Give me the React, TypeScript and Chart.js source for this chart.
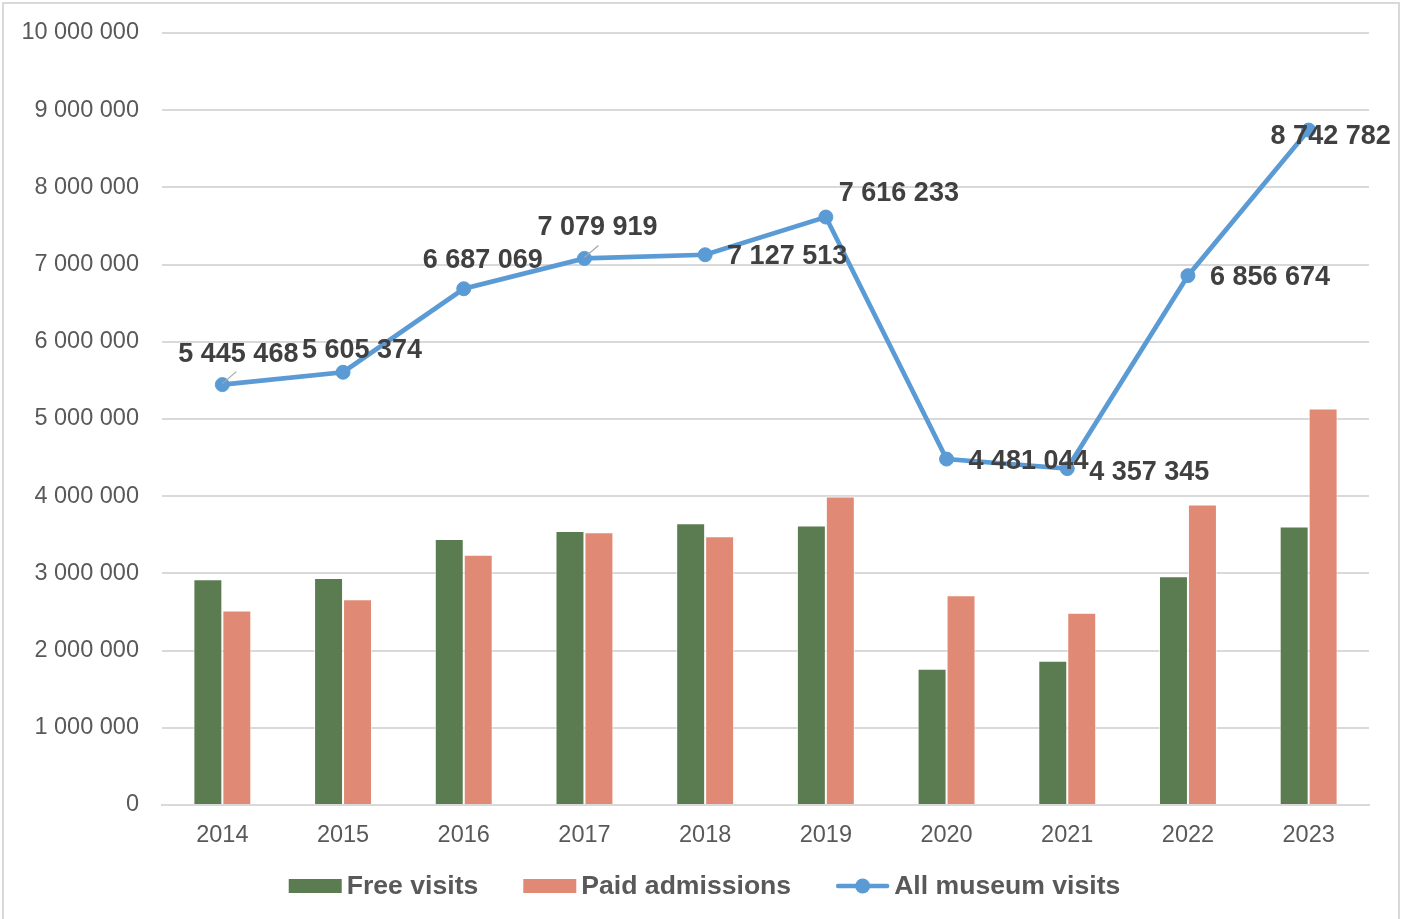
import React, { useEffect, useRef } from "react";
import { Chart, registerables } from "chart.js";

Chart.register(...registerables);

const years = ["2014", "2015", "2016", "2017", "2018", "2019", "2020", "2021", "2022", "2023"];
const freeVisits = [2925000, 2940000, 3445000, 3548000, 3648000, 3620000, 1765000, 1867000, 2963000, 3607000];
const paidAdmissions = [2520000, 2665000, 3242000, 3532000, 3480000, 3996000, 2716000, 2490000, 3894000, 5136000];
const allVisits = [5445468, 5605374, 6687069, 7079919, 7127513, 7616233, 4481044, 4357345, 6856674, 8742782];
const yTicks = [0, 1000000, 2000000, 3000000, 4000000, 5000000, 6000000, 7000000, 8000000, 9000000, 10000000];

const FONT = "'Liberation Sans', Arial, sans-serif";
const GREEN = "#5B7C50";
const SALMON = "#E08A75";
const BLUE = "#5B9BD5";

// label placement relative to each point (text centre), pixels
const labelOffsets = [
  { dx: 16, dy: -31, leader: true },
  { dx: 19, dy: -23 },
  { dx: 19, dy: -29 },
  { dx: 13, dy: -32, leader: true },
  { dx: 82, dy: 1 },
  { dx: 73, dy: -24 },
  { dx: 82, dy: 1 },
  { dx: 82, dy: 3 },
  { dx: 82, dy: 1 },
  { dx: 22, dy: 5 },
];

const fmt = (v: number) => Math.round(v).toString().replace(/\B(?=(\d{3})+(?!\d))/g, " ");

const framePlugin = {
  id: "frame",
  beforeDraw(chart: any) {
    const ctx = chart.ctx;
    ctx.save();
    ctx.fillStyle = "#ffffff";
    ctx.fillRect(0, 0, chart.width, chart.height);
    ctx.strokeStyle = "#d9d9d9";
    ctx.lineWidth = 2;
    ctx.strokeRect(3, 3, 1396, 940);
    ctx.restore();
  },
};

const labelsPlugin = {
  id: "lineLabels",
  afterDatasetsDraw(chart: any) {
    const ctx = chart.ctx;
    const meta = chart.getDatasetMeta(2);
    ctx.save();
    ctx.font = `bold 27px ${FONT}`;
    ctx.fillStyle = "#404040";
    ctx.textAlign = "center";
    ctx.textBaseline = "middle";
    meta.data.forEach((pt: any, i: number) => {
      const o = labelOffsets[i];
      const tx = pt.x + o.dx;
      const ty = pt.y + o.dy;
      if (o.leader) {
        ctx.save();
        ctx.strokeStyle = "#a6a6a6";
        ctx.lineWidth = 1.2;
        ctx.beginPath();
        ctx.moveTo(pt.x, pt.y - 1);
        ctx.lineTo(pt.x + 14, pt.y - 13);
        ctx.stroke();
        ctx.restore();
      }
      ctx.fillText(fmt(allVisits[i]), tx, ty + 1);
    });
    ctx.restore();
  },
};

const legendPlugin = {
  id: "customLegend",
  afterDraw(chart: any) {
    const ctx = chart.ctx;
    const items = [
      { text: "Free visits", type: "box", color: GREEN },
      { text: "Paid admissions", type: "box", color: SALMON },
      { text: "All museum visits", type: "line", color: BLUE },
    ];
    ctx.save();
    ctx.font = `bold 26.6px ${FONT}`;
    const symW = 53;
    const symGap = 5;
    const itemGap = 45;
    const widths = items.map((it) => ctx.measureText(it.text).width);
    const total = widths.reduce((a, w) => a + symW + symGap + w, 0) + itemGap * (items.length - 1);
    let x = (chart.width - total) / 2;
    const cy = 886;
    items.forEach((it, i) => {
      if (it.type === "box") {
        ctx.fillStyle = it.color;
        ctx.fillRect(x, cy - 7, symW, 14);
      } else {
        ctx.strokeStyle = it.color;
        ctx.lineWidth = 4.5;
        ctx.lineCap = "round";
        ctx.beginPath();
        ctx.moveTo(x + 2, cy);
        ctx.lineTo(x + symW - 2, cy);
        ctx.stroke();
        ctx.fillStyle = it.color;
        ctx.beginPath();
        ctx.arc(x + symW / 2, cy, 7.5, 0, Math.PI * 2);
        ctx.fill();
      }
      ctx.fillStyle = "#595959";
      ctx.textAlign = "left";
      ctx.textBaseline = "middle";
      ctx.fillText(it.text, x + symW + symGap, cy + 1);
      x += symW + symGap + widths[i] + itemGap;
    });
    ctx.restore();
  },
};

export default function App() {
  const ref = useRef<HTMLCanvasElement | null>(null);
  useEffect(() => {
    if (!ref.current) return;
    const chart = new Chart(ref.current, {
      type: "bar",
      data: {
        labels: years,
        datasets: [
          {
            type: "bar",
            label: "Free visits",
            data: freeVisits,
            backgroundColor: GREEN,
            borderColor: "rgba(255,255,255,0.7)",
            borderWidth: 1,
            categoryPercentage: 0.48,
            barPercentage: 1,
            order: 2,
          },
          {
            type: "bar",
            label: "Paid admissions",
            data: paidAdmissions,
            backgroundColor: SALMON,
            borderColor: "rgba(255,255,255,0.7)",
            borderWidth: 1,
            categoryPercentage: 0.48,
            barPercentage: 1,
            order: 2,
          },
          {
            type: "line",
            label: "All museum visits",
            data: allVisits,
            borderColor: BLUE,
            backgroundColor: BLUE,
            borderWidth: 4.7,
            pointRadius: 7,
            pointBorderWidth: 1,
            pointBackgroundColor: BLUE,
            pointBorderColor: BLUE,
            tension: 0,
            order: 0,
          } as any,
        ],
      },
      options: {
        animation: false,
        responsive: false,
        maintainAspectRatio: false,
        layout: { padding: { left: 0, right: 40, top: 33, bottom: 0 } },
        plugins: {
          legend: { display: false },
          tooltip: { enabled: false },
        },
        scales: {
          x: {
            grid: { display: false, drawTicks: false },
            border: { display: true, color: "#d9d9d9", width: 2 },
            ticks: {
              font: { family: FONT, size: 23.5 },
              color: "#595959",
              padding: 16,
            },
            afterFit(scale: any) {
              scale.height = 114;
              scale.paddingLeft = 0;
              scale.paddingRight = 0;
            },
          },
          y: {
            min: 0,
            max: 10000000,
            afterBuildTicks(scale: any) {
              scale.ticks = yTicks.map((v) => ({ value: v }));
            },
            grid: { color: "#d9d9d9", lineWidth: 2, drawTicks: false },
            border: { display: false },
            ticks: {
              font: { family: FONT, size: 23.5 },
              color: "#595959",
              padding: 23,
              callback: (v: any) => fmt(Number(v)),
            },
            afterFit(scale: any) {
              scale.width = 162;
              scale.paddingTop = 0;
              scale.paddingBottom = 0;
            },
          },
        },
      },
      plugins: [framePlugin, labelsPlugin, legendPlugin],
    });
    return () => chart.destroy();
  }, []);
  return (
    <div style={{ position: "absolute", left: 0, top: 0, width: 1409, height: 919 }}>
      <canvas ref={ref} width={1409} height={919} style={{ display: "block" }} />
    </div>
  );
}
